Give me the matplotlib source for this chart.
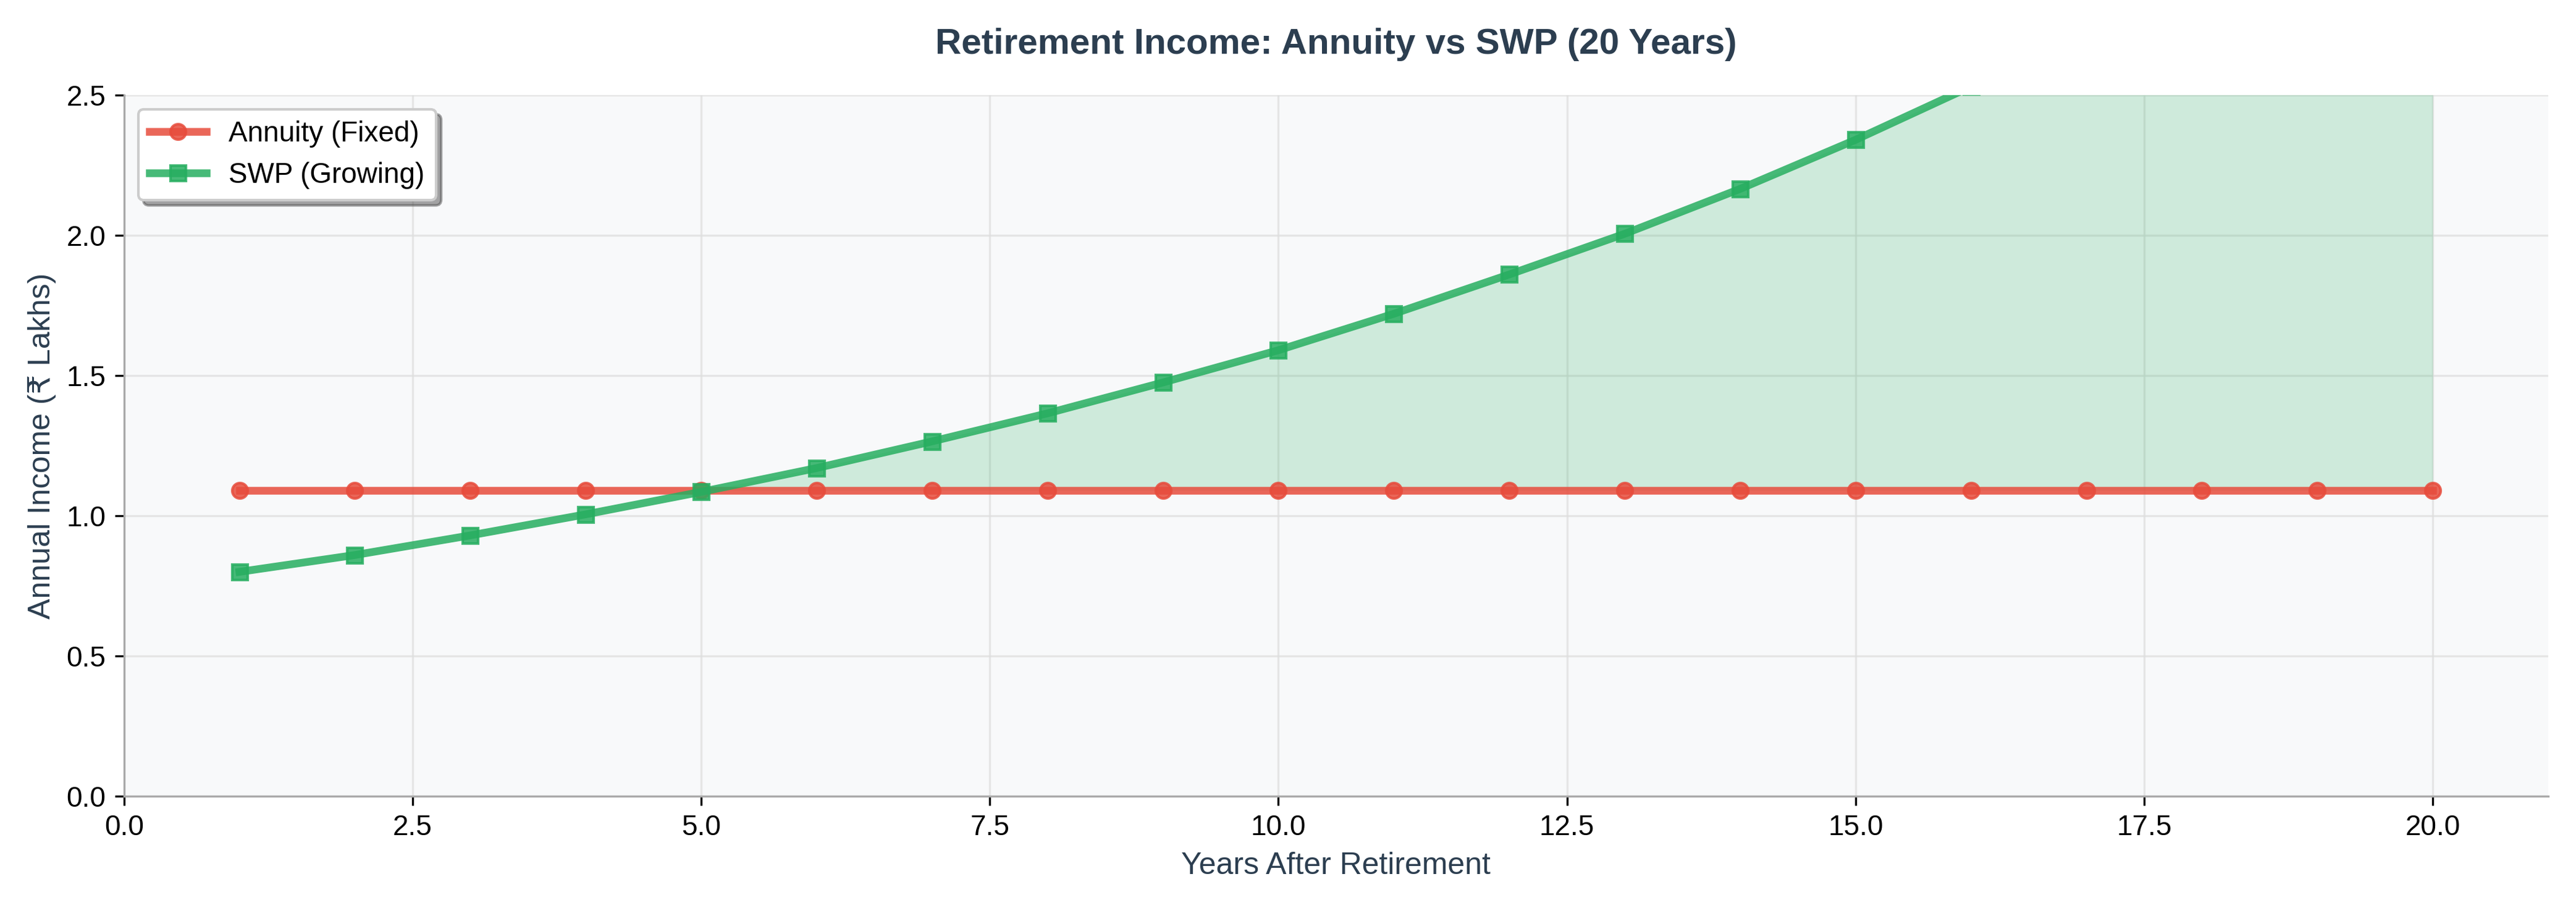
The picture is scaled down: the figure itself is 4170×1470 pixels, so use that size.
import matplotlib
matplotlib.use("Agg")
import matplotlib.pyplot as plt
import numpy as np

plt.rcParams['font.family'] = ['Liberation Sans', 'DejaVu Sans']

years = list(range(1, 21))
annuity = [1.09] * 20
swp = [0.80, 0.86, 0.93, 1.005, 1.085, 1.17, 1.265, 1.365, 1.475, 1.59,
       1.72, 1.86, 2.005, 2.165, 2.34, 2.53, 2.73, 2.95, 3.18, 3.43]

fig, ax = plt.subplots(figsize=(13.9, 4.9), dpi=300)
ax.set_facecolor('#f8f9fa')
fig.patch.set_facecolor('white')

y = np.array(years); a = np.array(annuity); s = np.array(swp)
ax.fill_between(y, a, s, where=s >= a, interpolate=True, color='#27ae60', alpha=0.2, linewidth=0)
ax.plot(y, a, color='#e74c3c', lw=3, marker='o', ms=6, alpha=0.85, label='Annuity (Fixed)')
ax.plot(y, s, color='#27ae60', lw=3, marker='s', ms=6, alpha=0.85, label='SWP (Growing)')

ax.set_xlim(0, 21)
ax.set_ylim(0, 2.5)
ax.grid(True, color='#dddddd', alpha=0.7, lw=0.8)
ax.set_axisbelow(True)
for sp in ['top', 'right']:
    ax.spines[sp].set_visible(False)
for sp in ['left', 'bottom']:
    ax.spines[sp].set_color('#aaaaaa')
ax.set_title('Retirement Income: Annuity vs SWP (20 Years)', fontsize=14, fontweight='bold',
             color='#2c3e50', pad=16)
ax.set_xlabel('Years After Retirement', fontsize=12, color='#2c3e50')
ax.set_ylabel('Annual Income (\u20b9 Lakhs)', fontsize=12, color='#2c3e50')
ax.tick_params(labelsize=11)
ax.legend(loc='upper left', fontsize=11, frameon=True, shadow=True, fancybox=True)

fig.tight_layout()
fig.savefig('out.png', dpi=300)
